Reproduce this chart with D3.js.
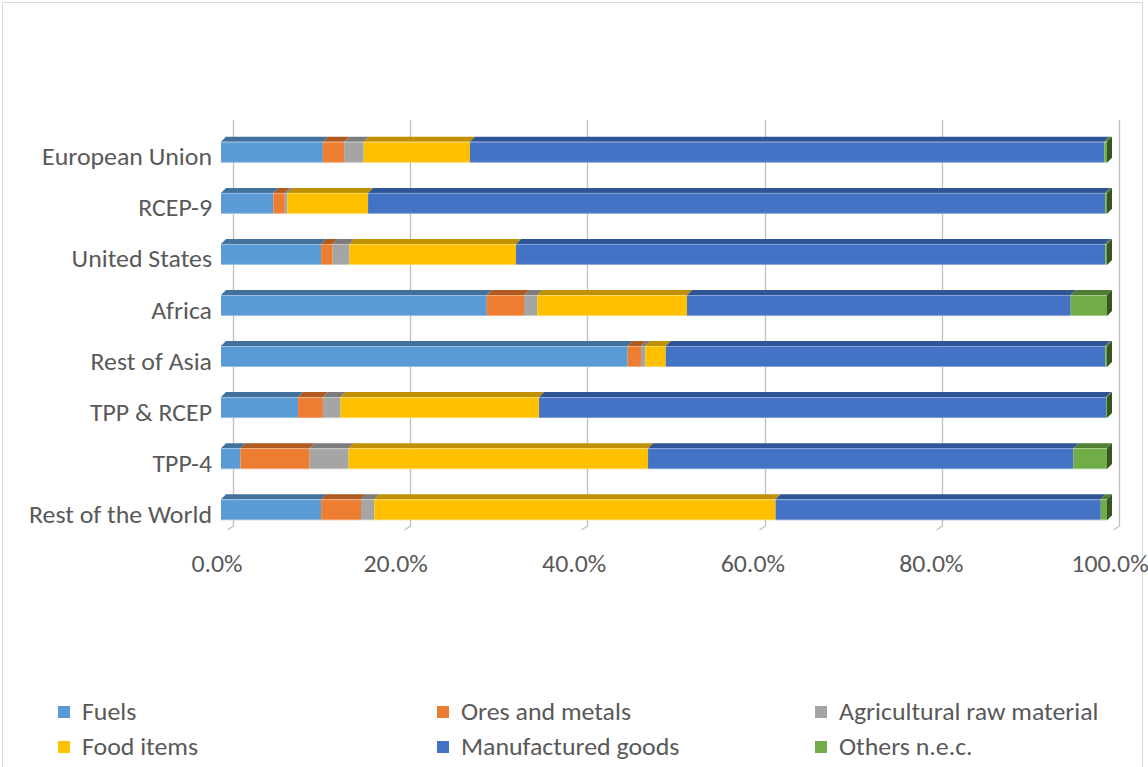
<!DOCTYPE html>
<html>
<head>
<meta charset="utf-8">
<script src="https://cdn.jsdelivr.net/npm/d3@7/dist/d3.min.js"></script>
<style>
  html, body { margin: 0; padding: 0; background: #fff; }
  svg { display: block; }
  text { font-family: Calibri, Carlito, "Liberation Sans", Arial, sans-serif; fill: #595959; }
</style>
</head>
<body>
<svg id="chart" width="1148" height="767"></svg>
<script>
// Export composition by region, share of total (%)
const regions = ["European Union", "RCEP-9", "United States", "Africa", "Rest of Asia", "TPP & RCEP", "TPP-4", "Rest of the World"];
const seriesNames = ["Fuels", "Ores and metals", "Agricultural raw material", "Food items", "Manufactured goods", "Others n.e.c."];
const fuels        = [11.5,  5.9, 11.3, 30.0, 45.9,  8.7,  2.2, 11.3];
const oresMetals   = [ 2.4,  1.3,  1.3,  4.2,  1.5,  2.8,  7.8,  4.5];
const agriRaw      = [ 2.2,  0.3,  1.9,  1.5,  0.5,  2.0,  4.4,  1.5];
const foodItems    = [12.0,  9.1, 18.8, 16.9,  2.3, 22.4, 33.8, 45.3];
const manufactured = [71.6, 83.2, 66.5, 43.3, 49.6, 64.0, 48.0, 36.7];
const others       = [ 0.3,  0.2,  0.2,  4.1,  0.2,  0.1,  3.8,  0.7];
const tickValues = [0, 20, 40, 60, 80, 100];
const tickLabels = ["0.0%", "20.0%", "40.0%", "60.0%", "80.0%", "100.0%"];

const colors = ["#5B9BD5", "#ED7D31", "#A5A5A5", "#FFC000", "#4472C4", "#70AD47"];
const topColors = ["#41719C", "#AE5A21", "#7C7C7C", "#BF9000", "#2F5597", "#507E32"];

const svg = d3.select("#chart");
const FONT = 23.5, STRETCH = 1.1;

// chart area border
svg.append("rect")
  .attr("x", 2.5).attr("y", 2.5).attr("width", 1140).attr("height", 770)
  .attr("fill", "#fff").attr("stroke", "#D9D9D9").attr("stroke-width", 1);

const x = d3.scaleLinear().domain([0, 100]).range([221, 1107]);
const xTick = d3.scaleLinear().domain([0, 100]).range([217, 1110]);
const y = d3.scaleBand().domain(regions).range([126.5, 535.5]).paddingInner(0.59).paddingOuter(0.3);

// 3D depth offsets
const dx = 5, dy = -5;          // bar top/side face
const wallDx = 12;              // back wall gridline offset

// gridlines on the back wall, with a short floor segment
const grid = svg.append("g");
tickValues.forEach(v => {
  const gx = Math.round(x(v) + wallDx) + 0.5;
  grid.append("path")
    .attr("d", `M${gx},120 L${gx},526 L${gx - 6},530`)
    .attr("fill", "none").attr("stroke", "#BFBFBF").attr("stroke-width", 1.3);
});

// stack the series
const table = regions.map((r, i) => ({
  region: r,
  "Fuels": fuels[i], "Ores and metals": oresMetals[i], "Agricultural raw material": agriRaw[i],
  "Food items": foodItems[i], "Manufactured goods": manufactured[i], "Others n.e.c.": others[i]
}));
const stacked = d3.stack().keys(seriesNames)(table);

const bars = svg.append("g");
regions.forEach((r, ri) => {
  const y0 = y(r), h = y.bandwidth();
  const g = bars.append("g");
  stacked.forEach((layer, si) => {
    const d = layer[ri];
    const x0 = x(d[0]), x1 = x(d[1]);
    if (x1 - x0 <= 0) return;
    // top face
    g.append("path")
      .attr("d", `M${x0},${y0} L${x0 + dx},${y0 + dy} L${x1 + dx},${y0 + dy} L${x1},${y0} Z`)
      .attr("fill", topColors[si]);
    // front face
    g.append("rect")
      .attr("x", x0).attr("y", y0).attr("width", x1 - x0).attr("height", h)
      .attr("fill", colors[si]);
  });
  // right side face of the last segment
  const last = stacked.length - 1;
  const xe = x(stacked[last][ri][1]);
  g.append("path")
    .attr("d", `M${xe},${y0} L${xe + dx},${y0 + dy} L${xe + dx},${y0 + dy + h} L${xe},${y0 + h} Z`)
    .attr("fill", "#375623");
  // light edges along the front face
  g.append("line").attr("x1", x(0)).attr("x2", xe).attr("y1", y0 + 0.5).attr("y2", y0 + 0.5)
    .attr("stroke", "#ffffff").attr("stroke-opacity", 0.35);
  g.append("line").attr("x1", x(0)).attr("x2", xe).attr("y1", y0 + h - 0.5).attr("y2", y0 + h - 0.5)
    .attr("stroke", "#ffffff").attr("stroke-opacity", 0.35);
});

// text helper: slightly widened glyphs
function label(sel, tx, ty, anchor) {
  return sel.append("text")
    .attr("transform", `translate(${tx},${ty}) scale(${STRETCH},1)`)
    .attr("text-anchor", anchor).attr("dominant-baseline", "central")
    .attr("font-size", FONT);
}

// category labels
const catG = svg.append("g");
regions.forEach(r => label(catG, 212, y(r) + y.bandwidth() / 2 + 5, "end").text(r));

// value axis labels
const tickG = svg.append("g");
tickValues.forEach((v, i) => label(tickG, xTick(v), 564, "middle").text(tickLabels[i]));

// legend
const legendPos = [[58, 712], [437, 712], [815, 712], [58, 747], [437, 747], [815, 747]];
const legend = svg.append("g");
seriesNames.forEach((name, i) => {
  const [lx, ly] = legendPos[i];
  legend.append("rect").attr("x", lx).attr("y", ly - 6).attr("width", 12).attr("height", 12).attr("fill", colors[i]);
  label(legend, lx + 24, ly, "start").text(name);
});
</script>
</body>
</html>
